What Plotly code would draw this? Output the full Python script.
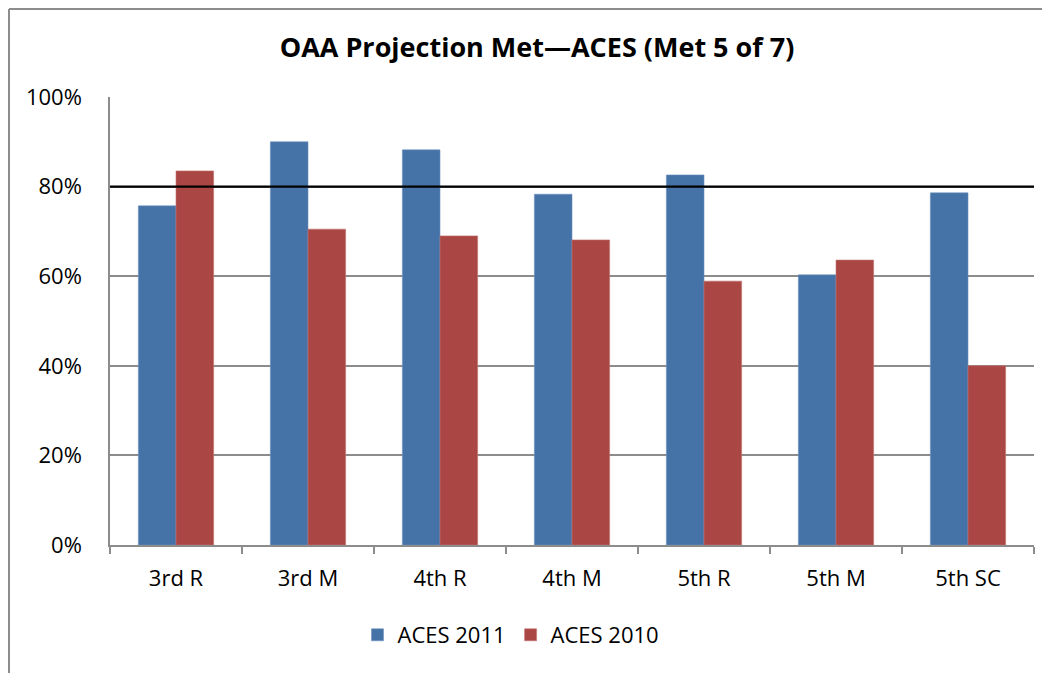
import plotly.graph_objects as go

categories = ["3rd R", "3rd M", "4th R", "4th M", "5th R", "5th M", "5th SC"]
aces_2011 = [75.7, 90.0, 88.2, 78.3, 82.6, 60.3, 78.6]
aces_2010 = [83.5, 70.5, 69.0, 68.1, 58.9, 63.6, 40.0]
target = 80
y_ticks = [0, 20, 40, 60, 80, 100]
y_labels = ["0%", "20%", "40%", "60%", "80%", "100%"]

# page has an 8px body margin; figure sized to fill the rest of the window
W, H = 1042, 665
ml, mr, mt, mb = 102, 16, 89, 128
pw = W - ml - mr
ph = H - mt - mb

fig = go.Figure()
fig.add_bar(x=categories, y=aces_2011, name="ACES 2011",
            marker=dict(color="#4572A7", line=dict(color="#6f90bd", width=0.6)))
fig.add_bar(x=categories, y=aces_2010, name="ACES 2010",
            marker=dict(color="#AA4643", line=dict(color="#c27472", width=0.6)))

fig.add_shape(type="line", xref="paper", yref="y", x0=0, x1=1, y0=target, y1=target,
              line=dict(color="black", width=2.2))
# outer chart border (left and top)
x_left = (1 - ml) / pw
y_top = 1 + (mt - 1) / ph
y_bot = -(mb) / ph
fig.add_shape(type="line", xref="paper", yref="paper",
              x0=x_left, x1=x_left, y0=y_bot, y1=y_top,
              line=dict(color="#8c8c8c", width=2))
fig.add_shape(type="line", xref="paper", yref="paper",
              x0=x_left, x1=(W - ml) / pw, y0=y_top, y1=y_top,
              line=dict(color="#8c8c8c", width=2))

fig.update_layout(
    width=W, height=H,
    margin=dict(l=ml, r=mr, t=mt, b=mb),
    paper_bgcolor="white", plot_bgcolor="white",
    barmode="group", bargap=0.43, bargroupgap=0,
    font=dict(family="Open Sans, sans-serif", size=22, color="black"),
    title=dict(text="<b>OAA Projection Met—ACES (Met 5 of 7)</b>", x=529 / W, xanchor="center",
               y=1 - 40 / H, yanchor="middle", font=dict(size=27, family="Open Sans, sans-serif")),
    showlegend=True,
    legend=dict(orientation="h", x=(503 - ml) / pw, xanchor="center", y=-(627 - mt - ph) / ph,
                yanchor="middle", font=dict(size=22), traceorder="normal", itemwidth=30),
    xaxis=dict(showline=True, linecolor="#8c8c8c", linewidth=1.5, ticks="outside",
               tickcolor="#8c8c8c", ticklen=7, tickwidth=1.5, tickson="boundaries",
               showgrid=False, tickfont=dict(size=22), ticklabelstandoff=13),
    yaxis=dict(range=[0, 100], tickvals=y_ticks, ticktext=y_labels, showline=True,
               linecolor="#8c8c8c", linewidth=1.5, showgrid=True, gridcolor="#8c8c8c",
               gridwidth=1.5, zeroline=False, ticks="", tickfont=dict(size=22), ticklabelstandoff=22),
)

fig.write_html("out.html")
